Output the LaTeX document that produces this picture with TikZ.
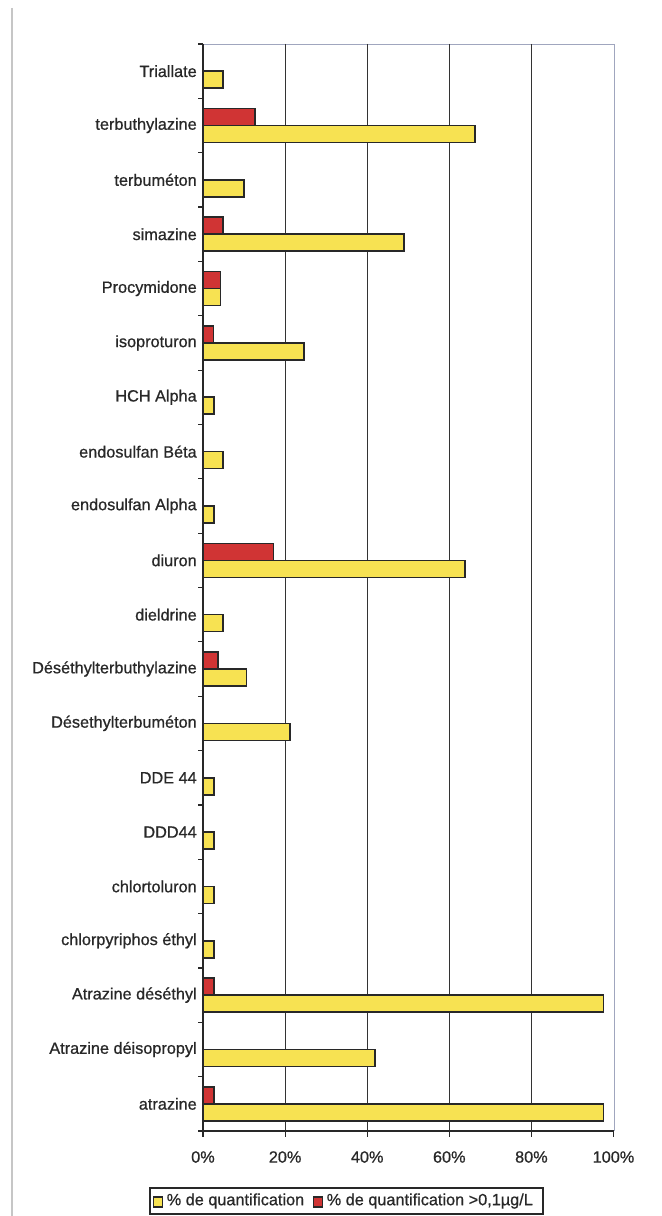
\documentclass[tikz,border=0pt]{standalone}
\usepackage{fontspec}
\setmainfont{Liberation Sans}
\newfontfamily\lblfont[FakeBold=0.7]{Liberation Sans}
\definecolor{baryellow}{RGB}{247,226,82}
\definecolor{barred}{RGB}{208,52,52}
\definecolor{inkgray}{RGB}{40,40,40}
\definecolor{framegray}{RGB}{160,166,190}
\begin{document}
\begin{tikzpicture}[x=0.75pt,y=-0.75pt,
  font=\lblfont\fontsize{12.2}{14}\selectfont,
  catlabel/.style={anchor=east, text=inkgray, inner sep=0pt},
  ticklab/.style={text=inkgray, inner sep=0pt},
  ylwbar/.style={fill=baryellow, draw=inkgray, line width=1.2pt},
  redbar/.style={fill=barred, draw=inkgray, line width=1.2pt},
  gridline/.style={draw=black!80, line width=0.9pt},
  axisline/.style={draw=inkgray, line width=1.1pt},
  frameline/.style={draw=framegray, line width=0.6pt},
  legmark/.style={draw=inkgray, line width=1pt, minimum width=7pt, minimum height=7.5pt, inner sep=0pt},
  legtext/.style={anchor=west, text=inkgray, inner sep=0pt}]
\useasboundingbox (0,0) rectangle (661,1216);
\fill[white] (0,0) rectangle (661,1216);
% scan page edge
\draw[gray!45, line width=0.8pt] (12,8) -- (12,1216);
% frame
\draw[frameline] (203,44) -- (614,44) -- (614,1131);
% grid
\foreach \p in {20,40,60,80}
  \draw[gridline] ({203+4.105*\p},44) -- ({203+4.105*\p},1131);
% bars and labels
\foreach \name/\r/\yv [count=\i from 0] in {
  Triallate/0/4.8,
  terbuthylazine/12.7/66.3,
  terbuméton/0/10,
  simazine/4.8/49,
  Procymidone/4.3/4.3,
  isoproturon/2.6/24.6,
  HCH Alpha/0/2.7,
  endosulfan Béta/0/4.8,
  endosulfan Alpha/0/2.7,
  diuron/17.2/63.8,
  dieldrine/0/4.8,
  Déséthylterbuthylazine/3.7/10.6,
  Désethylterbuméton/0/21.2,
  DDE 44/0/2.7,
  DDD44/0/2.7,
  chlortoluron/0/2.7,
  chlorpyriphos éthyl/0/2.7,
  Atrazine déséthyl/2.7/97.6,
  Atrazine déisopropyl/0/41.9,
  atrazine/2.7/97.6}{
  \pgfmathsetmacro\yc{44+54.35*(\i+0.5)}
  \node[catlabel] (lab\i) at (197,\yc) {\name};
  \ifdim \r pt>0pt
    \draw[redbar] (203,\yc-17) rectangle ({203+4.105*\r},\yc);
  \fi
  \draw[ylwbar] (203,\yc) rectangle ({203+4.105*\yv},\yc+17);
}
% axes
\draw[axisline] (203,44) -- (203,1131) -- (614,1131);
\foreach \k in {0,...,20}
  \draw[axisline, line width=0.9pt] (198,{44+54.35*\k}) -- (203,{44+54.35*\k});
\foreach \p in {0,20,40,60,80,100}{
  \draw[axisline, line width=0.9pt] ({203+4.105*\p},1131) -- ({203+4.105*\p},1137);
  \node[ticklab] (tick\p) at ({203+4.105*\p},1157) {\p\%};
}
% legend
\node[draw=inkgray, line width=1.2pt, minimum width=294.75pt, minimum height=19.5pt, inner sep=0pt] (legend) at (346.5,1201) {};
\node[legmark, fill=baryellow] (mkylw) at (158,1202) {};
\node[legtext] (txylw) at (166.5,1201) {\% de quantification};
\node[legmark, fill=barred] (mkred) at (318,1202) {};
\node[legtext] (txred) at (326.5,1201) {\% de quantification >0,1µg/L};
\end{tikzpicture}
\end{document}
